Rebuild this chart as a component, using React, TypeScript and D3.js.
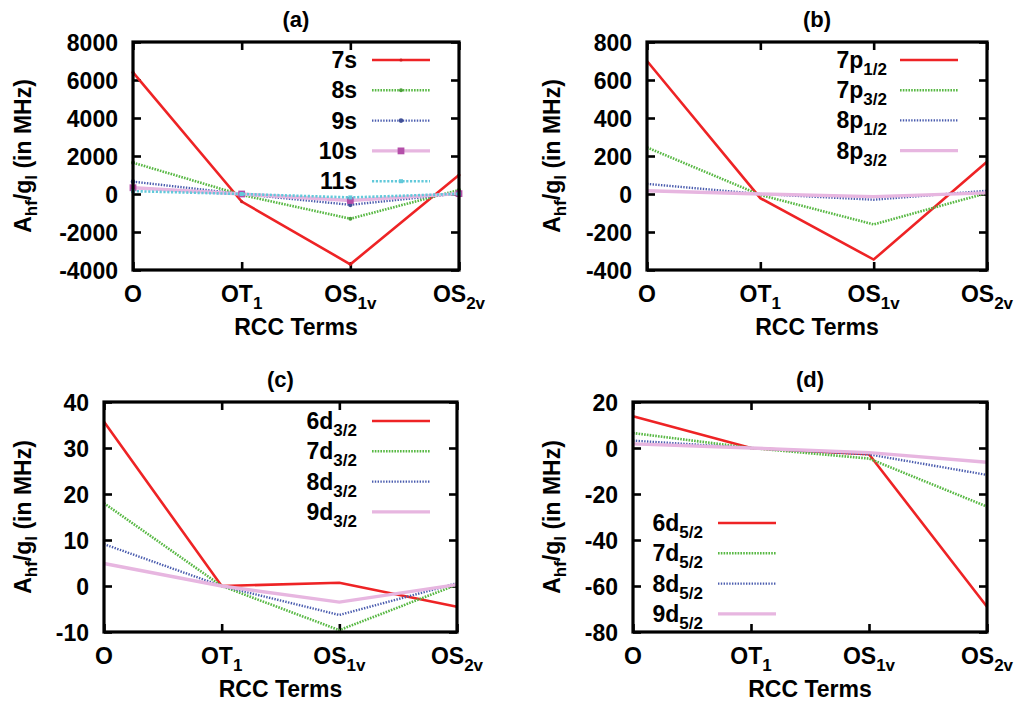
import React, { useRef, useEffect } from "react";
import * as d3 from "d3";

// RCC terms on the x axis
const termMain = ["O", "OT", "OS", "OS"];
const termSub = ["", "1", "1v", "2v"];

// (a) s states
const sNames = [["7s", ""], ["8s", ""], ["9s", ""], ["10s", ""], ["11s", ""]];
const s7 = [6400, -400, -3700, 1000];
const s8 = [1650, -50, -1300, 210];
const s9 = [650, 0, -570, 30];
const s10 = [330, 0, -340, 20];
const s11 = [150, 0, -180, 10];
const sTicks = [-4000, -2000, 0, 2000, 4000, 6000, 8000];

// (b) p states
const pNames = [["7p", "1/2"], ["7p", "3/2"], ["8p", "1/2"], ["8p", "3/2"]];
const p7half = [700, -22, -345, 170];
const p7three = [245, -5, -160, 5];
const p8half = [53, 0, -30, 17];
const p8three = [17, 0, -14, 6];
const pTicks = [-400, -200, 0, 200, 400, 600, 800];

// (c) d3/2 states
const d32Names = [["6d", "3/2"], ["7d", "3/2"], ["8d", "3/2"], ["9d", "3/2"]];
const d6_32 = [35.7, 0, 0.7, -4.5];
const d7_32 = [18, 0, -9.6, 0.3];
const d8_32 = [9.1, 0, -6.3, 0.6];
const d9_32 = [4.9, 0, -3.5, 0.3];
const d32Ticks = [-10, 0, 10, 20, 30, 40];

// (d) d5/2 states
const d52Names = [["6d", "5/2"], ["7d", "5/2"], ["8d", "5/2"], ["9d", "5/2"]];
const d6_52 = [13.8, 0, -2.7, -69];
const d7_52 = [6.5, 0, -4.6, -25.5];
const d8_52 = [3.2, 0, -2.8, -11.7];
const d9_52 = [1.8, 0, -2.0, -6.2];
const d52Ticks = [-80, -60, -40, -20, 0, 20];

const styles = [
  { color: "#ee2325", width: 2.6, dash: null, marker: "dot", msize: 1.6 },
  { color: "#58b844", width: 2.6, dash: "1.6,1.2", marker: "dot", msize: 2 },
  { color: "#4a5cae", width: 2.4, dash: "1.4,1.4", marker: "dot", msize: 2.3 },
  { color: "#e7b6e0", width: 3.4, dash: null, marker: "square", msize: 3.4, mcolor: "#b44fa9" },
  { color: "#62c9da", width: 2.6, dash: "2.2,1.6", marker: "square", msize: 2 },
];

const FONT = "'Liberation Sans', Arial, Helvetica, sans-serif";

const panels = [
  {
    title: "(a)", left: 133, right: 459, top: 42, bottom: 270, yDomain: [-4000, 8000], ticks: sTicks,
    names: sNames, values: [s7, s8, s9, s10, s11], markers: true,
    legX: 357, legL1: 372, legL2: 430, legY: 60, legDy: 30.3, ylabX: 31,
  },
  {
    title: "(b)", left: 647, right: 987, top: 42, bottom: 270, yDomain: [-400, 800], ticks: pTicks,
    names: pNames, values: [p7half, p7three, p8half, p8three], markers: false,
    legX: 887, legL1: 900, legL2: 958, legY: 60, legDy: 30.2, ylabX: 560,
  },
  {
    title: "(c)", left: 104, right: 457, top: 402, bottom: 632, yDomain: [-10, 40], ticks: d32Ticks,
    names: d32Names, values: [d6_32, d7_32, d8_32, d9_32], markers: false,
    legX: 357, legL1: 372, legL2: 430, legY: 421, legDy: 30.3, ylabX: 31,
  },
  {
    title: "(d)", left: 633, right: 987, top: 402, bottom: 632, yDomain: [-80, 20], ticks: d52Ticks,
    names: d52Names, values: [d6_52, d7_52, d8_52, d9_52], markers: false,
    legX: 703, legL1: 718, legL2: 776, legY: 523, legDy: 30.3, ylabX: 560,
  },
];

const drawMarker = (g, st, x, y) => {
  const c = st.mcolor || st.color;
  if (st.marker === "square") {
    g.append("rect").attr("x", x - st.msize).attr("y", y - st.msize)
      .attr("width", st.msize * 2).attr("height", st.msize * 2).attr("fill", c);
  } else {
    g.append("circle").attr("cx", x).attr("cy", y).attr("r", st.msize)
      .attr("fill", d3.color(c).darker(0.4).toString());
  }
};

const drawPanel = (svg, p) => {
  const g = svg.append("g");
  const x = d3.scalePoint().domain(d3.range(4)).range([p.left, p.right]);
  const y = d3.scaleLinear().domain(p.yDomain).range([p.bottom, p.top]);

  // ticks (inward, all four sides)
  const tickStyle = (sel) => {
    sel.select(".domain").remove();
    sel.selectAll("line").attr("stroke", "#000").attr("stroke-width", 2.6);
  };
  g.append("g").attr("transform", `translate(${p.left},0)`)
    .call(d3.axisLeft(y).tickValues(p.ticks).tickSize(-8).tickPadding(15).tickFormat((d) => String(d)))
    .call(tickStyle)
    .call((s) => s.selectAll("text").attr("font-family", FONT).attr("font-size", 23)
      .attr("font-weight", "bold").attr("fill", "#000").attr("dy", "0.36em"));
  g.append("g").attr("transform", `translate(${p.right},0)`)
    .call(d3.axisRight(y).tickValues(p.ticks).tickSize(-8).tickFormat(() => ""))
    .call(tickStyle);
  g.append("g").attr("transform", `translate(0,${p.bottom})`)
    .call(d3.axisBottom(x).tickSize(-8).tickFormat(() => ""))
    .call(tickStyle);
  g.append("g").attr("transform", `translate(0,${p.top})`)
    .call(d3.axisTop(x).tickSize(-8).tickFormat(() => ""))
    .call(tickStyle);

  // x tick labels with subscripts
  d3.range(4).forEach((i) => {
    const t = g.append("text").attr("x", x(i)).attr("y", p.bottom + 32)
      .attr("text-anchor", "middle").attr("font-family", FONT).attr("font-weight", "bold")
      .attr("font-size", 23);
    t.append("tspan").text(termMain[i]);
    if (termSub[i]) t.append("tspan").attr("font-size", 17).attr("dy", 7).text(termSub[i]);
  });

  // lines
  const line = d3.line().x((d, i) => x(i)).y((d) => y(d));
  p.values.forEach((vals, k) => {
    const st = styles[k];
    g.append("path").attr("d", line(vals)).attr("fill", "none")
      .attr("stroke", st.color).attr("stroke-width", st.width)
      .attr("stroke-dasharray", st.dash).attr("stroke-linejoin", "miter");
    if (p.markers) vals.forEach((v, i) => drawMarker(g, st, x(i), y(v)));
  });

  // frame
  g.append("rect").attr("x", p.left).attr("y", p.top)
    .attr("width", p.right - p.left).attr("height", p.bottom - p.top)
    .attr("fill", "none").attr("stroke", "#000").attr("stroke-width", 3.2);

  // legend
  p.names.forEach((nm, k) => {
    const st = styles[k];
    const ly = p.legY + k * p.legDy;
    const t = g.append("text").attr("x", p.legX).attr("y", ly + 8).attr("text-anchor", "end")
      .attr("font-family", FONT).attr("font-weight", "bold").attr("font-size", 23);
    t.append("tspan").text(nm[0]);
    if (nm[1]) t.append("tspan").attr("font-size", 17).attr("dy", 7).text(nm[1]);
    g.append("line").attr("x1", p.legL1).attr("x2", p.legL2).attr("y1", ly).attr("y2", ly)
      .attr("stroke", st.color).attr("stroke-width", st.width).attr("stroke-dasharray", st.dash);
    if (p.markers) drawMarker(g, st, (p.legL1 + p.legL2) / 2, ly);
  });

  const cx = (p.left + p.right) / 2;
  // title
  g.append("text").attr("x", cx).attr("y", p.top - 15).attr("text-anchor", "middle")
    .attr("font-family", FONT).attr("font-weight", "bold").attr("font-size", 22).text(p.title);
  // x title
  g.append("text").attr("x", cx).attr("y", p.bottom + 65).attr("text-anchor", "middle")
    .attr("font-family", FONT).attr("font-weight", "bold").attr("font-size", 23).text("RCC Terms");
  // y title
  const yl = g.append("text")
    .attr("transform", `translate(${p.ylabX},${(p.top + p.bottom) / 2}) rotate(-90)`)
    .attr("text-anchor", "middle").attr("font-family", FONT).attr("font-weight", "bold")
    .attr("font-size", 23);
  yl.append("tspan").text("A");
  yl.append("tspan").attr("font-size", 17).attr("dy", 6).text("hf");
  yl.append("tspan").attr("dy", -6).text("/g");
  yl.append("tspan").attr("font-size", 17).attr("dy", 6).text("l");
  yl.append("tspan").attr("dy", -6).text(" (in MHz)");
};

const App = () => {
  const ref = useRef(null);

  useEffect(() => {
    const svg = d3.select(ref.current);
    svg.selectAll("*").remove();
    panels.forEach((p) => drawPanel(svg, p));
  }, []);

  return (
    <svg
      ref={ref}
      width={1017}
      height={701}
      style={{ position: "absolute", left: 0, top: 0, background: "#fff" }}
    />
  );
};

export default App;
